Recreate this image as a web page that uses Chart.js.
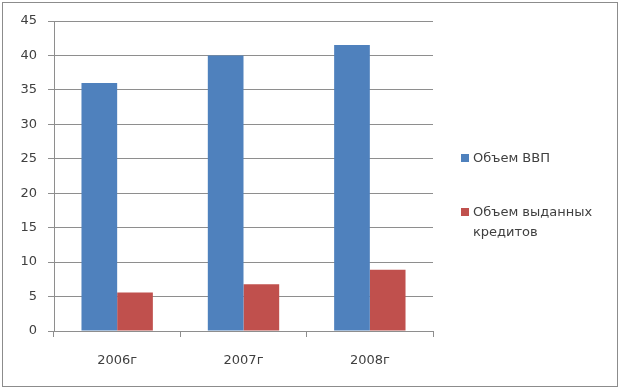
<!DOCTYPE html>
<html>
<head>
<meta charset="utf-8">
<script src="https://cdn.jsdelivr.net/npm/chart.js@4"></script>
<style>
  body { margin: 0; background: #fff; }
  #wrap { position: relative; width: 620px; height: 390px; }
  #legend { position: absolute; left: 461px; top: 148px; font: 13px "DejaVu Sans", sans-serif; color: #404040; }
  .item { position: relative; padding-left: 12px; line-height: 20px; }
  .item span { position: absolute; left: 0; top: 6px; width: 8px; height: 8px; }
</style>
</head>
<body>
<div id="wrap">
  <canvas id="chart" width="620" height="390"></canvas>
  <div id="legend"></div>
</div>
<script>
// chart data
const years = ['2006г', '2007г', '2008г'];
const gdp = [36, 40, 41.5];
const credits = [5.6, 6.8, 8.9];
const seriesNames = ['Объем ВВП', 'Объем выданных кредитов'];
const colors = ['#4F81BD', '#C0504D'];

const gridColor = '#8e8e8e';
const font = { family: 'DejaVu Sans', size: 13 };

// outer frame
const framePlugin = {
    id: 'frame',
    afterDraw(chart) {
        const c = chart.ctx;
        c.save();
        c.strokeStyle = '#8c8c8c';
        c.lineWidth = 1;
        c.strokeRect(2.5, 2.5, 615, 384);
        c.restore();
    }
};

new Chart(document.getElementById('chart'), {
    type: 'bar',
    data: {
        labels: years,
        datasets: [
            { label: seriesNames[0], data: gdp, backgroundColor: colors[0] },
            { label: seriesNames[1], data: credits, backgroundColor: colors[1] }
        ]
    },
    options: {
        responsive: false,
        animation: false,
        categoryPercentage: 0.565,
        barPercentage: 1,
        layout: { padding: { top: 21, right: 187, left: 0, bottom: 0 } },
        plugins: {
            legend: { display: false },
            tooltip: { enabled: false }
        },
        scales: {
            y: {
                min: 0, max: 45,
                ticks: { stepSize: 5, color: '#404040', font: font, padding: 11 },
                grid: { color: gridColor, tickLength: 6 },
                border: { color: gridColor },
                afterFit: s => { s.width = 54; }
            },
            x: {
                ticks: { color: '#404040', font: font, padding: 16 },
                grid: { color: gridColor, tickLength: 6, drawOnChartArea: false },
                border: { color: gridColor },
                afterFit: s => { s.height = 59; }
            }
        }
    },
    plugins: [framePlugin]
});

// html legend
const legend = document.getElementById('legend');
legend.innerHTML = `
    <div class="item"><span style="background:${colors[0]}"></span>${seriesNames[0]}</div>
    <div class="item" style="margin-top:34px"><span style="background:${colors[1]}"></span>Объем выданных<br>кредитов</div>`;
</script>
</body>
</html>
